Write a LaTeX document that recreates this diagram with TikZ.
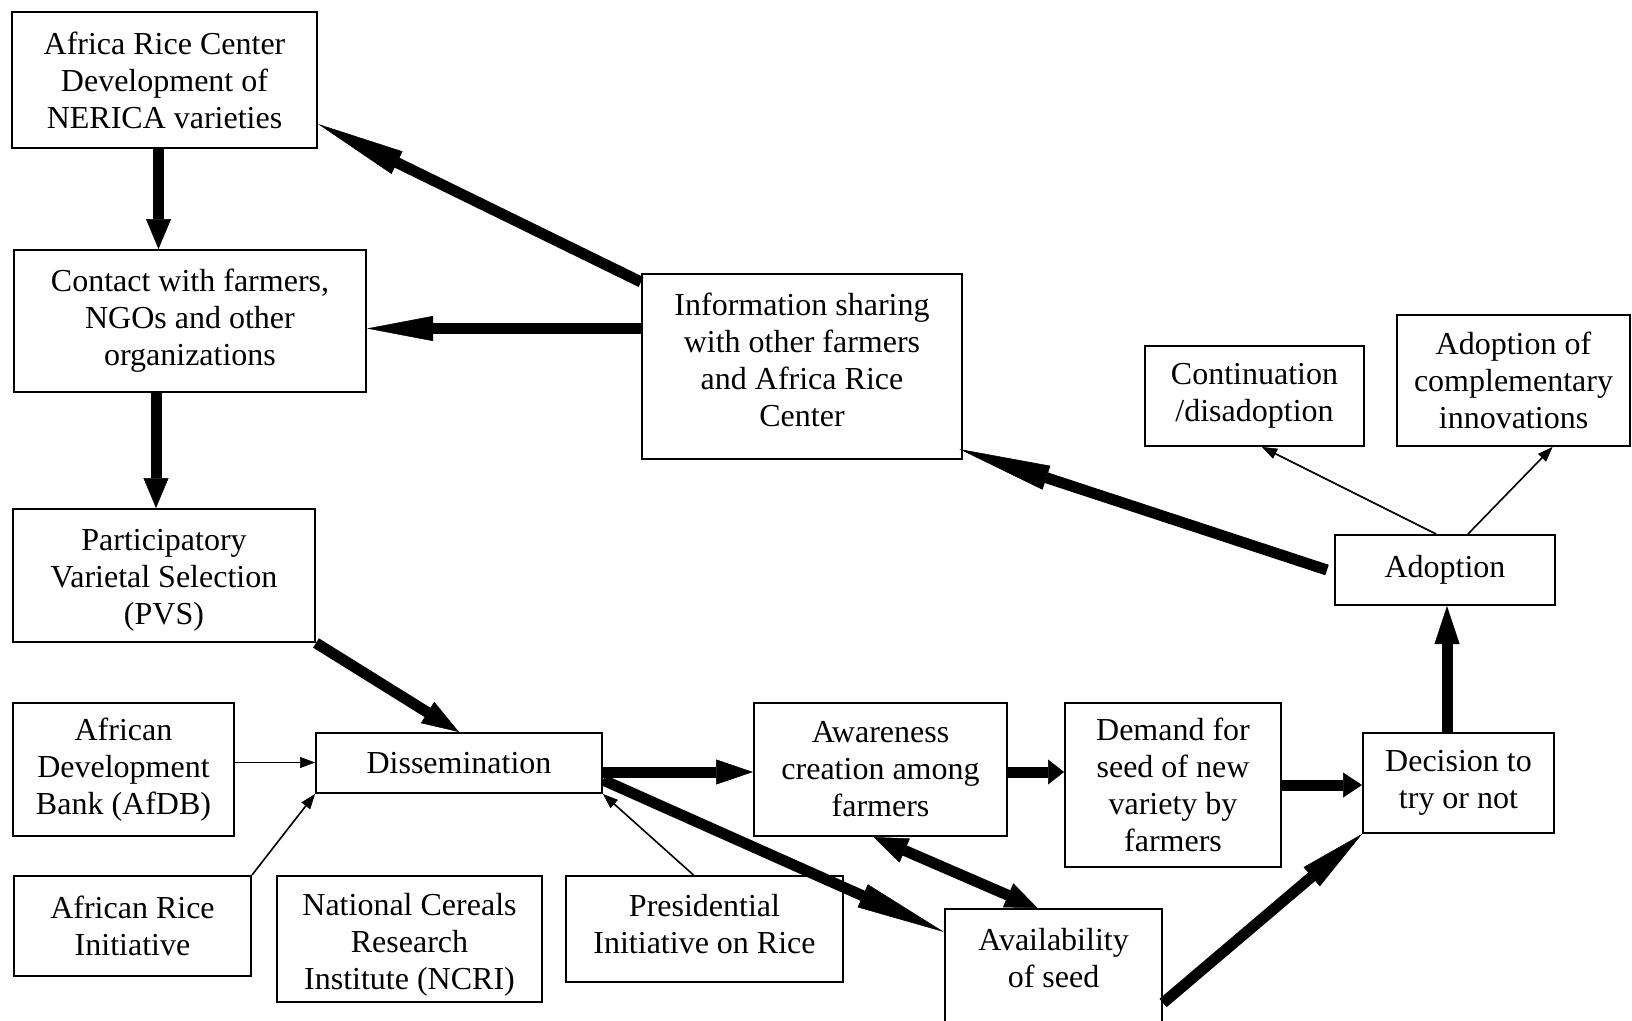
\documentclass[tikz,border=0pt]{standalone}
\usepackage{fontspec}
\setmainfont{Liberation Serif}
\usetikzlibrary{arrows.meta}

\begin{document}
\begin{tikzpicture}[x=1pt,y=-1pt,
  every node/.style={font=\fontsize{32}{37}\selectfont,align=center,inner sep=0pt},
  box/.style={shape=rectangle,draw,line width=2pt},
  big/.style={line width=11pt,-{Triangle[length=#1,width=25pt,line width=0.5pt]}},
  big/.default=38pt,
  bigboth/.style={line width=11pt,{Triangle[length=34pt,width=26pt,line width=0.5pt]}-{Triangle[length=32pt,width=26pt,line width=0.5pt]}},
  thinarr/.style={line width=1.6pt,-{Triangle[length=15pt,width=11pt,line width=0.5pt]}}]
\useasboundingbox (0,0) rectangle (1632,1020);
%[left column]
\path (164.5,80) node (africa) [box,minimum width=305pt,minimum height=136pt] {Africa Rice Center\\Development of\\NERICA varieties};
\path (190,321) node (contact) [box,minimum width=352pt,minimum height=142pt] {Contact with farmers,\\NGOs and other\\organizations};
\path (164,575.5) node (pvs) [box,minimum width=302pt,minimum height=133pt] {\rule{0pt}{30pt}Participatory\\Varietal Selection\\(PVS)};
\path (123.5,769.5) node (afdb) [box,minimum width=221pt,minimum height=133pt] {African\\Development\\Bank (AfDB)};
\path (132.5,926) node (ari) [box,minimum width=237pt,minimum height=100pt] {African Rice\\Initiative};
\path (409.5,939) node (ncri) [box,minimum width=265pt,minimum height=126pt] {\rule{0pt}{34pt}National Cereals\\Research\\Institute (NCRI)};
\path (704.5,929) node (pres) [box,minimum width=277pt,minimum height=106pt,text depth=10pt] {Presidential\\Initiative on Rice};
\path (459,763) node (diss) [box,minimum width=286pt,minimum height=60pt] {Dissemination};
%[middle and right]
\path (802,366.5) node (info) [box,minimum width=320pt,minimum height=185pt,text depth=14pt] {Information sharing\\with other farmers\\and Africa Rice\\Center};
\path (1254.5,396) node (cont) [box,minimum width=219pt,minimum height=100pt] {Continuation\\/disadoption};
\path (1513.5,380.5) node (compl) [box,minimum width=233pt,minimum height=131pt] {Adoption of\\complementary\\innovations};
\path (1445,570) node (adoption) [box,minimum width=220pt,minimum height=70pt] {Adoption};
\path (880.5,769.5) node (aware) [box,minimum width=253pt,minimum height=133pt] {Awareness\\creation among\\farmers};
\path (1173,785) node (demand) [box,minimum width=216pt,minimum height=164pt] {Demand for\\seed of new\\variety by\\farmers};
\path (1458.5,783) node (decision) [box,minimum width=191pt,minimum height=100pt] {Decision to\\try or not};
\path (1053.5,982) node (avail) [box,minimum width=217pt,minimum height=146pt] {Availability\\of seed\\\strut};

\draw [big=30pt] ([xshift=-6pt]africa.south) to ([xshift=-6pt]africa.south |- contact.north);
\draw [big=30pt] ([xshift=-8pt]pvs.north |- contact.south) to ([xshift=-8pt]pvs.north);
\draw [big=66pt] ([yshift=38pt]info.west) to ([yshift=38pt]info.west -| contact.east);
\draw [big=88pt] ([yshift=-9pt]info.north west) to ([yshift=-44pt]africa.east);
\draw [big=37pt] (pvs.south east) to (diss.north);
\draw [big=37pt] ([yshift=-9pt]diss.east) to ([yshift=-9pt]diss.east -| aware.west);
\draw [big=89pt] ([yshift=-17pt]diss.east) to ([yshift=-24pt]avail.north west);
\draw [bigboth] ([xshift=-7pt]aware.south) to ([xshift=-16pt]avail.north);
\draw [big=16pt] ([yshift=-2.5pt]aware.east) to ([yshift=-2.5pt]aware.east -| demand.west);
\draw [big=19pt] (demand.east) to (demand.east -| decision.west);
\draw [big=66pt] ([yshift=-21pt]avail.east) to (decision.south west);
\draw [big=38pt] ([xshift=2pt]adoption.south |- decision.north) to ([xshift=2pt]adoption.south);
\draw [big=92pt] ([xshift=-7pt]adoption.west) to ([xshift=-4pt,yshift=11pt]info.south east);

\draw [thinarr] ([yshift=7pt]afdb.east) to ([yshift=7pt]afdb.east -| diss.west);
\draw [thinarr] (ari.north east) to (diss.south west);
\draw [thinarr] ([xshift=-11pt]pres.north) to (diss.south east);
\draw [thinarr] ([xshift=-9pt]adoption.north) to ([xshift=7.5pt]cont.south);
\draw [thinarr] ([xshift=23pt]adoption.north) to ([xshift=39pt]compl.south);
\end{tikzpicture}
\end{document}
